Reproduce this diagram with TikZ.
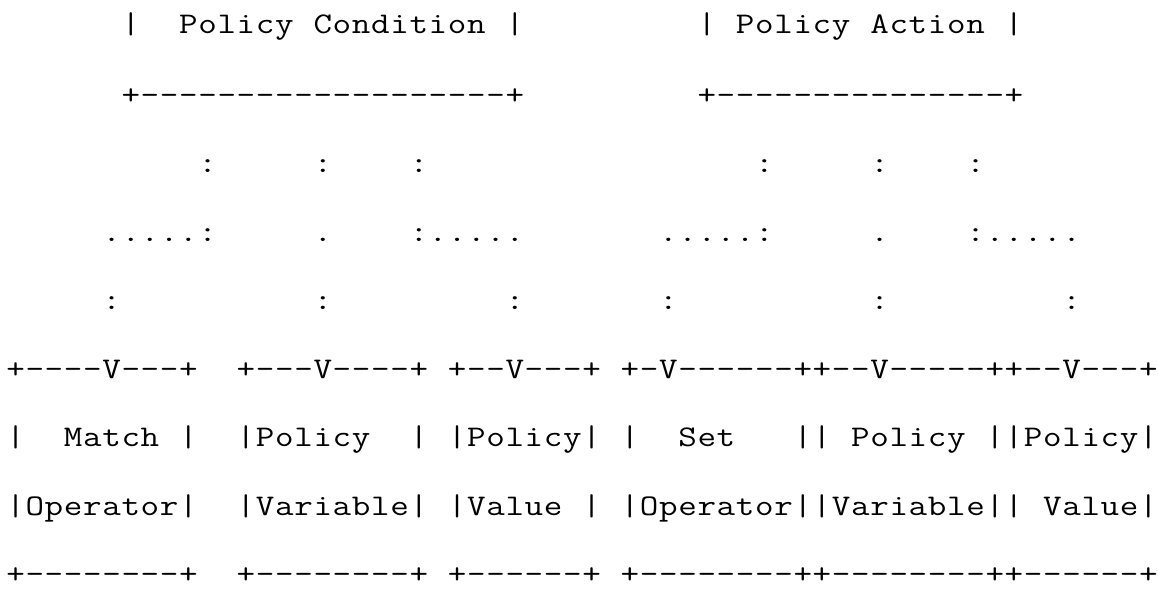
\documentclass[tikz,border=0pt]{standalone}
\usepackage{fontspec}
\usepackage{graphicx}
\ExplSyntaxOn
\dim_new:N \l_asc_cw_dim
\dim_set:Nn \l_asc_cw_dim {19.2pt}
\NewDocumentCommand \ascii { m }
  {
    \str_map_inline:nn {#1}
      {
        \str_if_eq:nnTF {##1} {*}
          { \hbox_to_wd:nn { \l_asc_cw_dim } { \hss } }
          { \hbox_to_wd:nn { \l_asc_cw_dim } { \hss \scalebox{1.2}[1]{##1} \hss } }
      }
  }
\ExplSyntaxOff
\tikzset{
  asciiline/.style={anchor=base west, inner sep=0pt, outer sep=0pt,
    font=\ttfamily\fontsize{30pt}{36pt}\selectfont, text=black}
}
\begin{document}
\begin{tikzpicture}[x=1pt,y=1pt]
\useasboundingbox (0,0) rectangle (1159,-592);
\def\xo{6}
\node[asciiline] (l0) at (\xo,-33)    {\ascii{******|**Policy*Condition*|*********|*Policy*Action*|}};
\node[asciiline] (l1) at (\xo,-104)   {\ascii{******+-------------------+*********+---------------+}};
\node[asciiline] (l2) at (\xo,-172.5) {\ascii{**********:*****:****:*****************:*****:****:}};
\node[asciiline] (l3) at (\xo,-241)   {\ascii{*****.....:*****.****:.....*******.....:*****.****:.....}};
\node[asciiline] (l4) at (\xo,-309.5) {\ascii{*****:**********:*********:*******:**********:*********:}};
\node[asciiline] (l5) at (\xo,-378)   {\ascii{+----V---+**+---V----+*+--V---+*+-V------++--V-----++--V---+}};
\node[asciiline] (l6) at (\xo,-446.5) {\ascii{|**Match*|**|Policy**|*|Policy|*|**Set***||*Policy*||Policy|}};
\node[asciiline] (l7) at (\xo,-515)   {\ascii{|Operator|**|Variable|*|Value*|*|Operator||Variable||*Value|}};
\node[asciiline] (l8) at (\xo,-583.5) {\ascii{+--------+**+--------+*+------+*+--------++--------++------+}};
\end{tikzpicture}
\end{document}
